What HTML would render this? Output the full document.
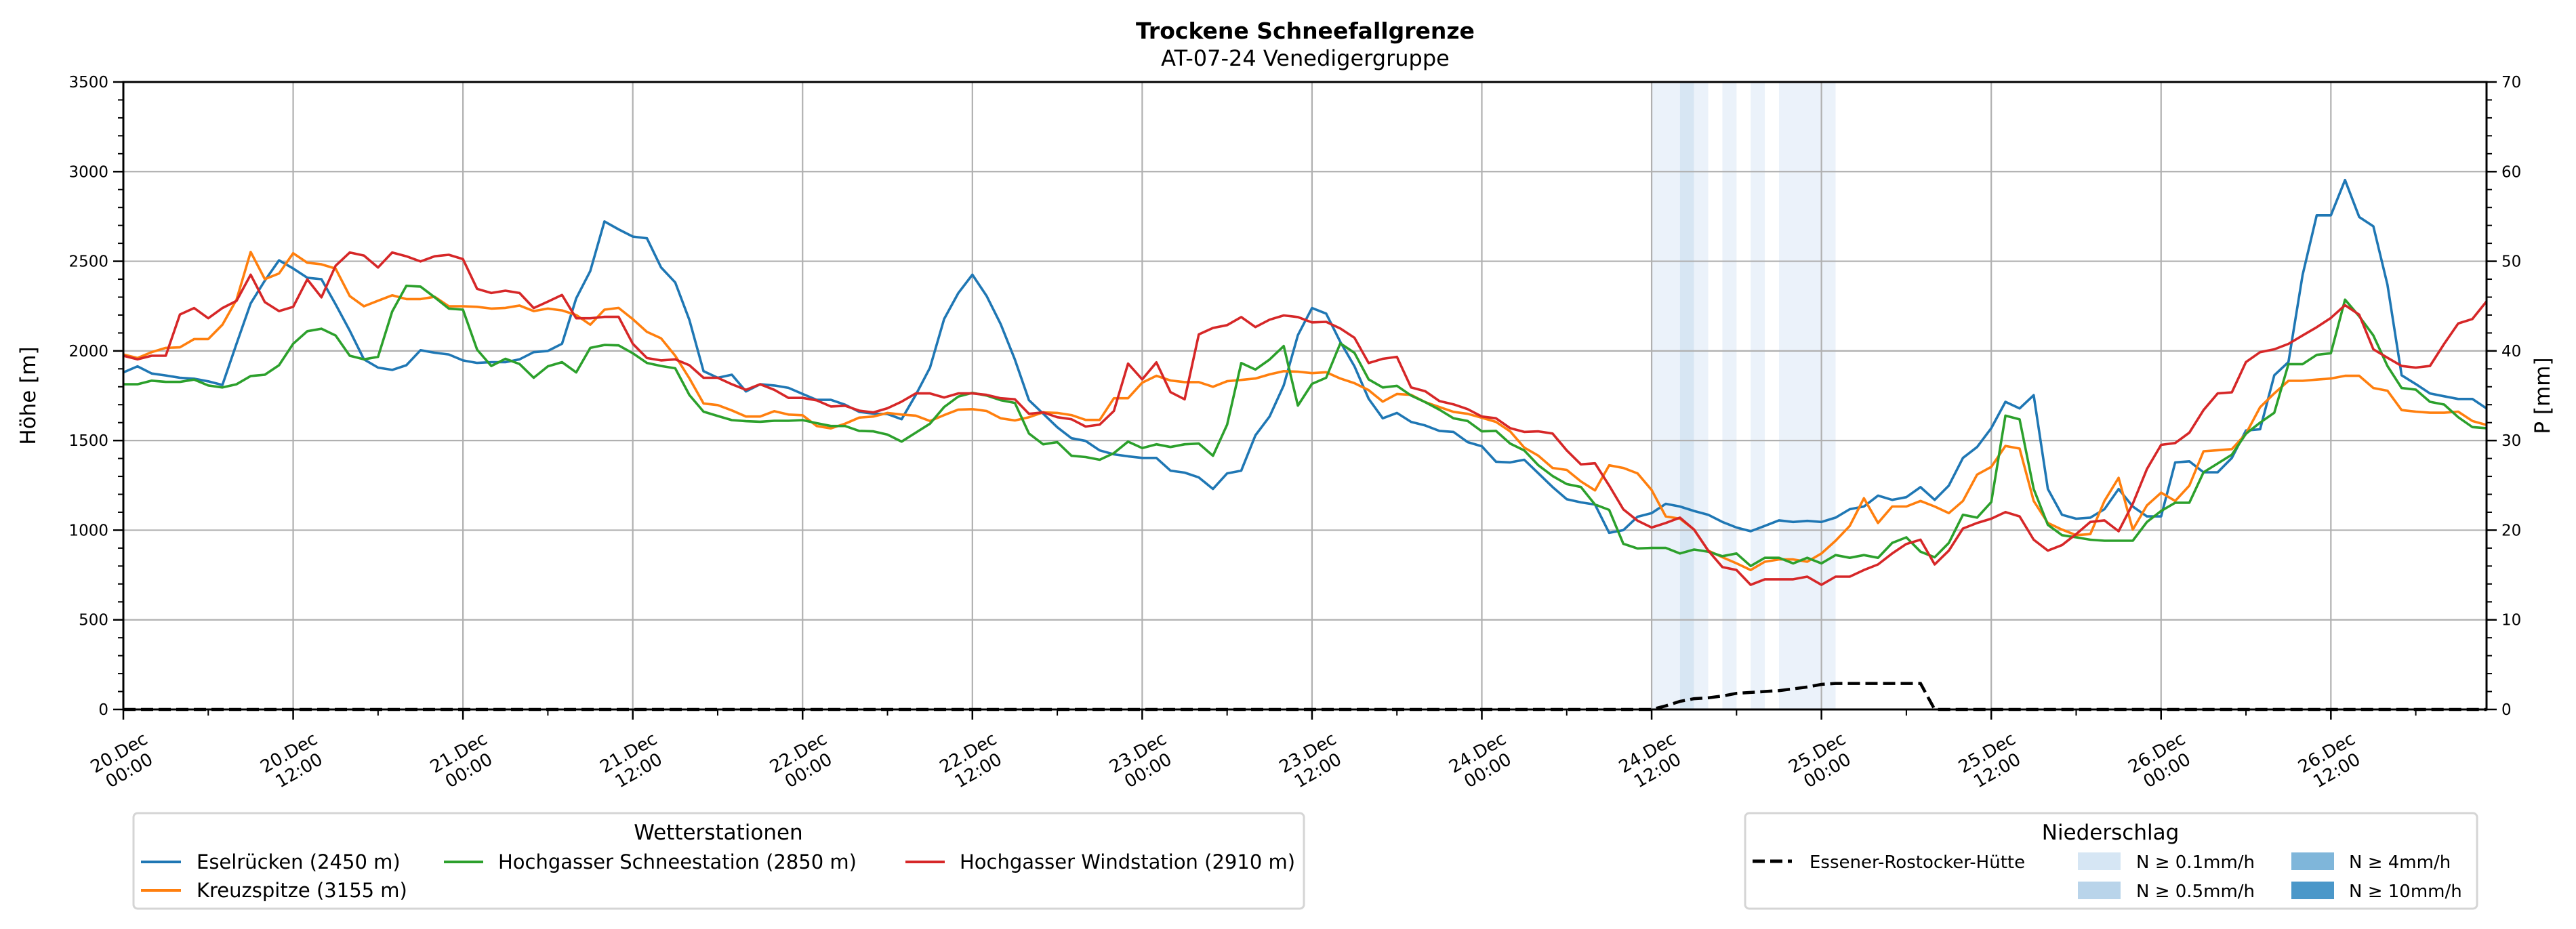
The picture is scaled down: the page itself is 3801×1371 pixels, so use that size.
<!DOCTYPE html>
<html><head><meta charset="utf-8">
<style>
html,body{margin:0;padding:0;background:#fff;}
svg{display:block;font-family:"DejaVu Sans","Liberation Sans",sans-serif;}
</style></head>
<body>
<svg id="chart" width="3801" height="1371" viewBox="0 0 3801 1371" xmlns="http://www.w3.org/2000/svg">
<rect width="3801" height="1371" fill="#fff"/>
<text x="1926" y="57" text-anchor="middle" font-size="33" font-weight="bold">Trockene Schneefallgrenze</text>
<text x="1926" y="97" text-anchor="middle" font-size="32">AT-07-24 Venedigergruppe</text>
<g id="shade"></g>
<g id="grid"></g>
<g id="lines"></g>
<g id="axes"></g>
<text transform="translate(52,584) rotate(-90)" text-anchor="middle" font-size="31">Höhe [m]</text>
<text transform="translate(3762,584) rotate(-90)" text-anchor="middle" font-size="31">P [mm]</text>

<g>
<rect x="197" y="1200" width="1727" height="141" rx="6" fill="#fff" stroke="#d5d5d5" stroke-width="3"/>
<text x="1060" y="1239" text-anchor="middle" font-size="31">Wetterstationen</text>
<g><line x1="208" x2="267" y1="1272" y2="1272" stroke="#1f77b4" stroke-width="4"/><text x="290" y="1282" font-size="29">Eselrücken (2450 m)</text></g>
<g><line x1="208" x2="267" y1="1314" y2="1314" stroke="#ff7f0e" stroke-width="4"/><text x="290" y="1324" font-size="29">Kreuzspitze (3155 m)</text></g>
<g><line x1="655" x2="713" y1="1272" y2="1272" stroke="#2ca02c" stroke-width="4"/><text x="735" y="1282" font-size="29">Hochgasser Schneestation (2850 m)</text></g>
<g><line x1="1336" x2="1394" y1="1272" y2="1272" stroke="#d62728" stroke-width="4"/><text x="1416" y="1282" font-size="29">Hochgasser Windstation (2910 m)</text></g>
</g>

<g>
<rect x="2575" y="1200" width="1080" height="141" rx="6" fill="#fff" stroke="#d5d5d5" stroke-width="3"/>
<text x="3114" y="1239" text-anchor="middle" font-size="31">Niederschlag</text>
<g><line x1="2586" x2="2644" y1="1271" y2="1271" stroke="#000" stroke-width="5" stroke-dasharray="18,8"/><text x="2670" y="1281" font-size="26">Essener-Rostocker-Hütte</text></g>
<g><rect x="3066" y="1258" width="63" height="26" fill="#d6e6f4"/><text x="3152" y="1281" font-size="26">N ≥ 0.1mm/h</text></g>
<g><rect x="3066" y="1301" width="63" height="26" fill="#b9d4ea"/><text x="3152" y="1324" font-size="26">N ≥ 0.5mm/h</text></g>
<g><rect x="3381" y="1258" width="63" height="26" fill="#7fb6da"/><text x="3466" y="1281" font-size="26">N ≥ 4mm/h</text></g>
<g><rect x="3381" y="1301" width="63" height="26" fill="#4a97c9"/><text x="3466" y="1324" font-size="26">N ≥ 10mm/h</text></g>
</g>
</svg>
<script>
const eselruecken=[1880,1914,1874,1863,1850,1845,1830,1810,2040,2265,2392,2505,2460,2408,2400,2260,2113,1953,1907,1894,1920,2004,1990,1980,1947,1933,1937,1937,1953,1993,2000,2040,2293,2446,2722,2678,2638,2628,2466,2382,2173,1887,1850,1867,1774,1814,1807,1794,1760,1727,1727,1700,1660,
1650,1648,1619,1755,1906,2178,2322,2425,2307,2149,1952,1725,1650,1574,1513,1498,1445,1423,1412,1403,1403,1332,1321,1294,1230,1317,1332,1529,1634,1808,2088,2239,2208,2050,1914,1733,1624,1654,1604,1584,1554,1548,1491,1468,1382,1378,1393,1317,1241,1173,1155,1143,985,1000,1075,
1095,1147,1132,1107,1086,1046,1015,994,1024,1055,1046,1052,1046,1070,1117,1132,1193,1169,1184,1240,1169,1249,1403,1464,1569,1716,1679,1753,1230,1086,1064,1070,1117,1230,1132,1077,1077,1378,1384,1323,1323,1403,1556,1563,1864,1938,2424,2756,2756,2953,2747,2695,2369,1864,1815,1763,1747,1732,1732,1679];
const kreuzspitze=[1980,1960,1993,2017,2020,2066,2066,2146,2286,2552,2400,2432,2545,2492,2483,2459,2306,2249,2280,2310,2289,2289,2302,2249,2249,2246,2236,2240,2253,2222,2236,2226,2200,2146,2230,2240,2177,2106,2070,1973,1847,1707,1698,1668,1634,1634,1664,1645,1641,1581,1568,1594,1628,
1634,1654,1645,1639,1609,1642,1672,1675,1665,1624,1612,1630,1657,1654,1642,1615,1615,1736,1736,1823,1861,1835,1826,1826,1800,1831,1838,1846,1869,1887,1884,1876,1881,1846,1820,1781,1717,1760,1755,1714,1687,1660,1649,1627,1604,1551,1461,1415,1347,1336,1272,1222,1362,1347,1317,
1224,1077,1064,1003,886,849,815,778,824,837,837,824,870,941,1024,1178,1040,1132,1132,1163,1132,1095,1163,1310,1353,1470,1455,1163,1040,1003,972,978,1163,1292,1003,1138,1209,1163,1249,1440,1446,1452,1538,1686,1763,1833,1833,1840,1846,1861,1861,1793,1778,1670,1661,1655,1655,1661,1609,1587];
const schneestation=[1814,1814,1834,1827,1827,1840,1807,1796,1814,1860,1867,1920,2040,2110,2124,2086,1973,1953,1967,2220,2363,2359,2299,2236,2230,2007,1916,1956,1927,1850,1914,1937,1880,2017,2033,2031,1987,1933,1916,1903,1754,1661,1637,1614,1608,1605,1610,1610,1614,1597,1581,1581,1554,
1551,1533,1494,1544,1594,1687,1745,1766,1751,1725,1710,1539,1479,1491,1415,1408,1393,1430,1494,1458,1479,1464,1479,1483,1415,1589,1932,1896,1952,2027,1695,1816,1850,2042,1989,1841,1796,1805,1751,1714,1672,1624,1609,1551,1554,1483,1445,1362,1302,1257,1241,1143,1113,924,898,
901,901,870,892,880,855,870,800,846,846,815,846,815,861,846,861,846,929,960,880,849,929,1086,1070,1157,1639,1618,1230,1030,972,960,947,941,941,941,1046,1107,1153,1153,1323,1372,1421,1538,1600,1655,1926,1926,1978,1987,2286,2193,2086,1916,1793,1784,1716,1701,1630,1575,1569];
const windstation=[1973,1953,1973,1973,2203,2239,2182,2239,2279,2425,2272,2222,2246,2399,2299,2475,2549,2532,2465,2549,2528,2499,2528,2536,2512,2346,2323,2336,2323,2239,2275,2312,2182,2182,2190,2190,2040,1960,1947,1953,1920,1850,1850,1814,1783,1814,1783,1738,1738,1724,1690,1694,1667,
1657,1680,1717,1763,1763,1740,1763,1763,1755,1736,1730,1649,1657,1630,1619,1578,1589,1665,1929,1841,1936,1770,1730,2092,2128,2144,2189,2133,2174,2198,2189,2159,2162,2125,2073,1932,1956,1967,1796,1775,1720,1702,1675,1634,1624,1569,1548,1551,1539,1445,1367,1373,1249,1116,1053,
1015,1040,1070,1003,886,794,778,695,726,726,726,741,695,741,741,778,809,870,923,947,809,886,1009,1040,1064,1101,1077,947,886,917,978,1046,1055,994,1147,1341,1476,1486,1544,1670,1763,1769,1938,1993,2009,2039,2086,2132,2184,2255,2202,2009,1962,1916,1907,1916,2039,2153,2178,2276];
const precipHours=[108,109,110,111,112,113,114,115,116,117,118,119,120,121,122,123,124,125,126,127,128];
const precipSum=[0,0.4,0.9,1.2,1.3,1.5,1.8,1.9,2.0,2.1,2.3,2.5,2.8,2.9,2.9,2.9,2.9,2.9,2.9,2.9,0];
const shadeStart=[108,110,111,113,115,117];
const shadeEnd=[110,111,112,114,116,121];
const shadeLevel=[0,1,0,0,0,0];
const xTickLabels=[["20.Dec","00:00"],["20.Dec","12:00"],["21.Dec","00:00"],["21.Dec","12:00"],["22.Dec","00:00"],["22.Dec","12:00"],["23.Dec","00:00"],["23.Dec","12:00"],["24.Dec","00:00"],["24.Dec","12:00"],["25.Dec","00:00"],["25.Dec","12:00"],["26.Dec","00:00"],["26.Dec","12:00"]];
const yTicks=[0,500,1000,1500,2000,2500,3000,3500];
const y2Ticks=[0,10,20,30,40,50,60,70];

const NS="http://www.w3.org/2000/svg";
const L=182,R=3669,T=121,B=1047,HOURS=167;
const xS=h=>L+(R-L)*h/HOURS;
const yS=v=>B-(B-T)*v/3500;
const y2S=v=>B-(B-T)*v/70;
function mk(tag,attrs,parent){const e=document.createElementNS(NS,tag);for(const k in attrs)e.setAttribute(k,attrs[k]);parent.appendChild(e);return e;}
const gShade=document.getElementById('shade'),gGrid=document.getElementById('grid'),gLines=document.getElementById('lines'),gAx=document.getElementById('axes');
const shadeCols=['#ebf2fa','#d7e6f3'];
shadeStart.forEach((s,i)=>{const r=mk('rect',{x:xS(s),y:T,width:xS(shadeEnd[i])-xS(s),height:B-T,fill:shadeCols[shadeLevel[i]]},gShade);

});
xTickLabels.forEach((lab,i)=>{const x=xS(i*12);
const g=mk('line',{x1:x,x2:x,y1:T,y2:B,stroke:'#b0b0b0','stroke-width':2.2},gGrid);


mk('line',{x1:x,x2:x,y1:B,y2:B+15,stroke:'#000','stroke-width':2.5},gAx);
const t=mk('text',{x:x,y:1122,'text-anchor':'middle','font-size':26,transform:`rotate(-30 ${x} 1122)`},gAx);


mk('tspan',{x:x,dy:-4},t).textContent=lab[0];
mk('tspan',{x:x,dy:30},t).textContent=lab[1];
});
for(let h=6;h<HOURS;h+=12){const x=xS(h);mk('line',{x1:x,x2:x,y1:B,y2:B+9,stroke:'#000','stroke-width':2},gAx);}
yTicks.forEach((v,i)=>{const y=yS(v);
if(v>0&&v<3500){const g=mk('line',{x1:L,x2:R,y1:y,y2:y,stroke:'#b0b0b0','stroke-width':2.2},gGrid);

}
mk('line',{x1:L-15,x2:L,y1:y,y2:y,stroke:'#000','stroke-width':2.5},gAx);
const t=mk('text',{x:L-22,y:y+8,'text-anchor':'end','font-size':23},gAx);t.textContent=v;


});
for(let v=100;v<3500;v+=100){if(v%500)mk('line',{x1:L-8,x2:L,y1:yS(v),y2:yS(v),stroke:'#000','stroke-width':2},gAx);}
y2Ticks.forEach((v,i)=>{const y=y2S(v);
mk('line',{x1:R,x2:R+15,y1:y,y2:y,stroke:'#000','stroke-width':2.5},gAx);
const t=mk('text',{x:R+22,y:y+8,'font-size':23},gAx);t.textContent=v;


});
for(let v=2;v<70;v+=2){if(v%10)mk('line',{x1:R,x2:R+8,y1:y2S(v),y2:y2S(v),stroke:'#000','stroke-width':2},gAx);}
function series(arr,col,name){const p=arr.map((v,h)=>xS(h).toFixed(1)+','+yS(v).toFixed(1)).join(' ');
const e=mk('polyline',{points:p,fill:'none',stroke:col,'stroke-width':3.6,'stroke-linejoin':'round'},gLines);

}
series(eselruecken,'#1f77b4','line-eselruecken');
series(kreuzspitze,'#ff7f0e','line-kreuzspitze');
series(schneestation,'#2ca02c','line-hochgasser-schnee');
series(windstation,'#d62728','line-hochgasser-wind');
const pp=[[0,0]].concat(precipHours.map((h,i)=>[h,precipSum[i]])).concat([[HOURS,0]]);
const pl=mk('polyline',{points:pp.map(q=>xS(q[0]).toFixed(1)+','+y2S(q[1]).toFixed(1)).join(' '),fill:'none',stroke:'#000','stroke-width':4.5,'stroke-dasharray':'18,8'},gLines);


const fr=mk('rect',{x:L,y:T,width:R-L,height:B-T,fill:'none',stroke:'#000','stroke-width':3},gAx);


</script>
</body></html>
